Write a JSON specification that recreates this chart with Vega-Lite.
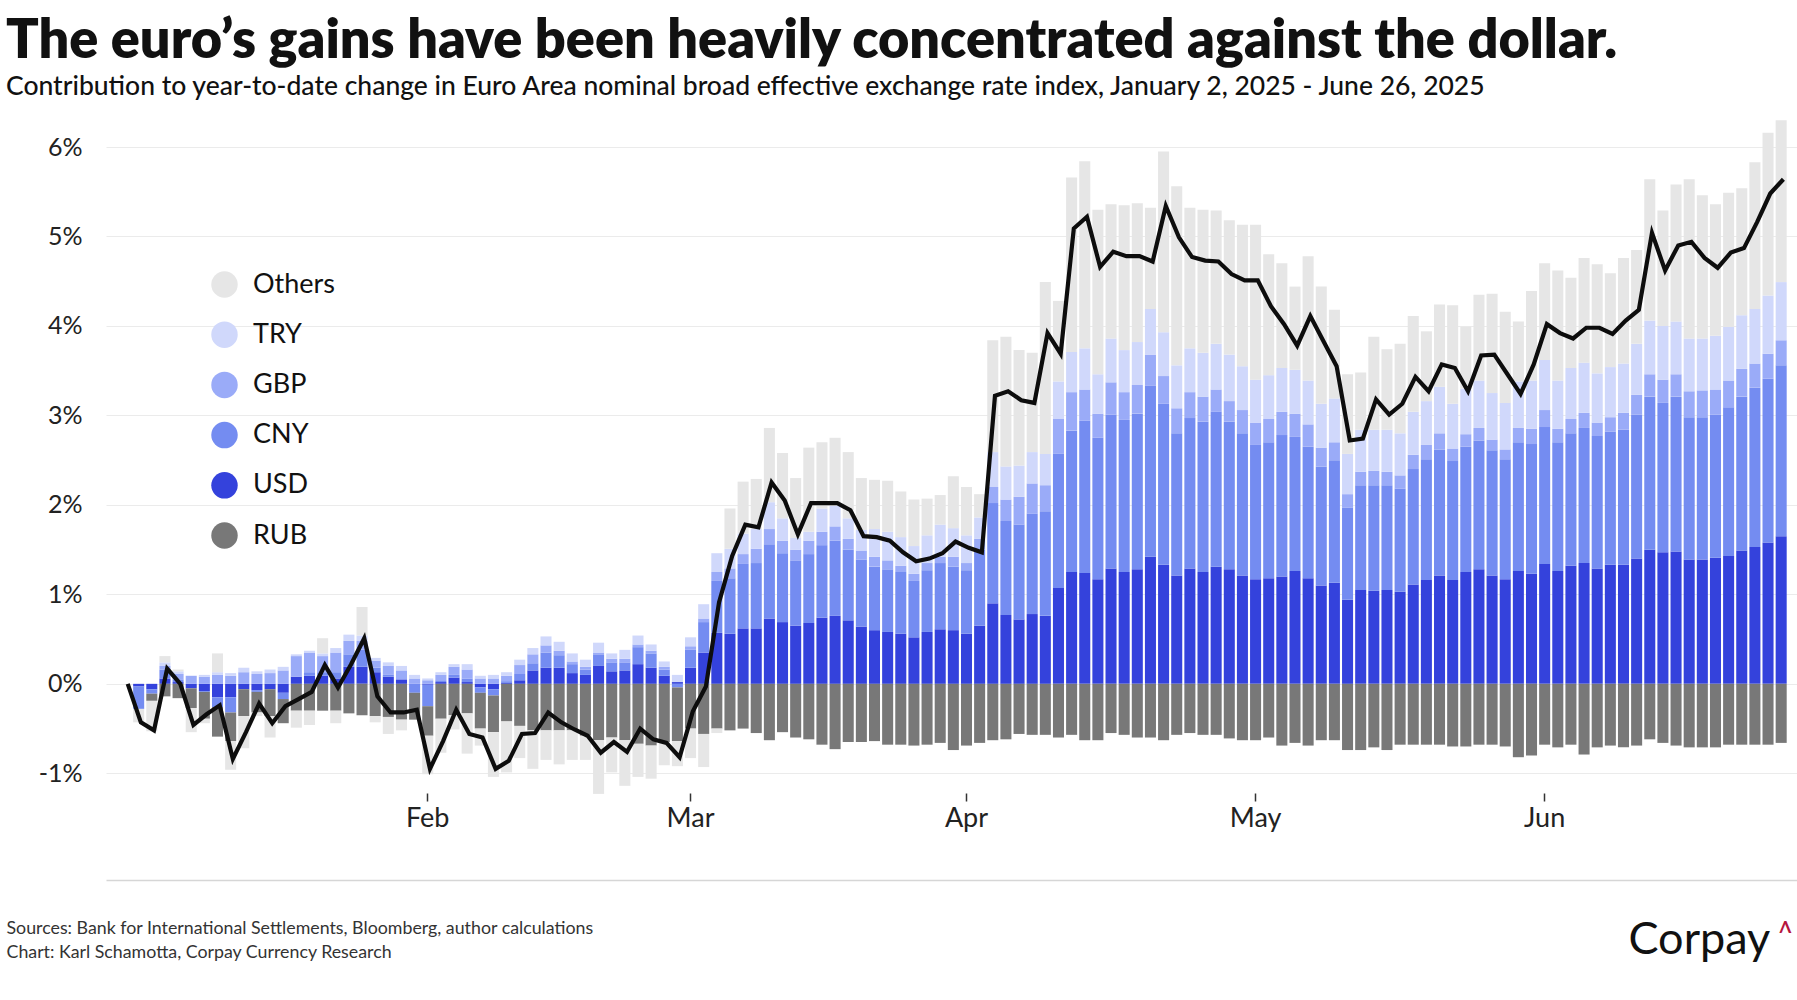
{
"$schema": "https://vega.github.io/schema/vega-lite/v6.json",
"width": 1691, "height": 680,
"autosize": {"type": "none"},
"padding": {"left": 106, "top": 113, "right": 0, "bottom": 207},
"background": "white",
"config": {"view": {"stroke": null}, "font": "Lato"},
"title": {"text": "The euro’s gains have been heavily concentrated against the dollar.", "subtitle": "Contribution to year-to-date change in Euro Area nominal broad effective exchange rate index, January 2, 2025 - June 26, 2025", "anchor": "start", "frame": "group", "dx": -100, "offset": 13, "font": "Lato", "fontSize": 54, "fontWeight": 800, "color": "#111111", "subtitleFont": "Lato", "subtitleFontSize": 26.5, "subtitleFontWeight": 500, "subtitleColor": "#111111", "subtitlePadding": 5},
"data": {"values": [
{"date":"2025-01-01","USD":0,"CNY":0,"GBP":0,"TRY":0,"Others":0,"RUB":0,"Total":0},
{"date":"2025-01-02","USD":-0.03,"CNY":-0.25,"GBP":0,"TRY":0,"Others":-0.15,"RUB":0,"Total":-0.43},
{"date":"2025-01-03","USD":-0.06,"CNY":-0.05,"GBP":0,"TRY":0,"Others":-0.34,"RUB":-0.08,"Total":-0.52},
{"date":"2025-01-06","USD":0.06,"CNY":0.1,"GBP":0.04,"TRY":0.04,"Others":0.07,"RUB":-0.14,"Total":0.17},
{"date":"2025-01-07","USD":0.02,"CNY":0.03,"GBP":0.06,"TRY":0.03,"Others":0.02,"RUB":-0.16,"Total":0.0},
{"date":"2025-01-08","USD":-0.05,"CNY":0,"GBP":0.09,"TRY":0,"Others":-0.27,"RUB":-0.22,"Total":-0.46},
{"date":"2025-01-09","USD":-0.08,"CNY":-0.01,"GBP":0.08,"TRY":0.02,"Others":-0.05,"RUB":-0.3,"Total":-0.34},
{"date":"2025-01-10","USD":-0.15,"CNY":-0.11,"GBP":0.1,"TRY":0.03,"Others":0.21,"RUB":-0.33,"Total":-0.24},
{"date":"2025-01-13","USD":-0.15,"CNY":-0.17,"GBP":0.09,"TRY":0.03,"Others":-0.32,"RUB":-0.32,"Total":-0.84},
{"date":"2025-01-14","USD":-0.06,"CNY":0,"GBP":0.13,"TRY":0.05,"Others":-0.36,"RUB":-0.3,"Total":-0.54},
{"date":"2025-01-15","USD":-0.07,"CNY":-0.02,"GBP":0.11,"TRY":0.03,"Others":-0.04,"RUB":-0.23,"Total":-0.22},
{"date":"2025-01-16","USD":-0.06,"CNY":0,"GBP":0.12,"TRY":0.04,"Others":-0.24,"RUB":-0.3,"Total":-0.44},
{"date":"2025-01-17","USD":-0.1,"CNY":-0.07,"GBP":0.15,"TRY":0.04,"Others":0,"RUB":-0.27,"Total":-0.25},
{"date":"2025-01-20","USD":0.08,"CNY":0,"GBP":0.23,"TRY":0.02,"Others":-0.19,"RUB":-0.3,"Total":-0.17},
{"date":"2025-01-21","USD":0.09,"CNY":0.04,"GBP":0.22,"TRY":0.02,"Others":-0.16,"RUB":-0.3,"Total":-0.09},
{"date":"2025-01-22","USD":0.09,"CNY":0.04,"GBP":0.18,"TRY":0.03,"Others":0.17,"RUB":-0.3,"Total":0.21},
{"date":"2025-01-23","USD":0.06,"CNY":0.07,"GBP":0.22,"TRY":0.05,"Others":-0.14,"RUB":-0.3,"Total":-0.04},
{"date":"2025-01-24","USD":0.19,"CNY":0.14,"GBP":0.15,"TRY":0.07,"Others":0,"RUB":-0.33,"Total":0.22},
{"date":"2025-01-27","USD":0.19,"CNY":0.19,"GBP":0.1,"TRY":0.06,"Others":0.32,"RUB":-0.35,"Total":0.51},
{"date":"2025-01-28","USD":0.13,"CNY":0.05,"GBP":0.08,"TRY":0.03,"Others":-0.07,"RUB":-0.36,"Total":-0.14},
{"date":"2025-01-29","USD":0.08,"CNY":0.02,"GBP":0.1,"TRY":0.04,"Others":-0.19,"RUB":-0.37,"Total":-0.32},
{"date":"2025-01-30","USD":0.05,"CNY":0,"GBP":0.1,"TRY":0.05,"Others":-0.12,"RUB":-0.4,"Total":-0.32},
{"date":"2025-01-31","USD":0,"CNY":-0.1,"GBP":0.06,"TRY":0.04,"Others":0,"RUB":-0.3,"Total":-0.29},
{"date":"2025-02-03","USD":-0.01,"CNY":-0.24,"GBP":0.04,"TRY":0.02,"Others":-0.43,"RUB":-0.33,"Total":-0.95},
{"date":"2025-02-04","USD":0.02,"CNY":0.02,"GBP":0.06,"TRY":0.03,"Others":-0.38,"RUB":-0.39,"Total":-0.64},
{"date":"2025-02-05","USD":0.07,"CNY":0.03,"GBP":0.09,"TRY":0.03,"Others":-0.16,"RUB":-0.35,"Total":-0.29},
{"date":"2025-02-06","USD":0.02,"CNY":0.04,"GBP":0.1,"TRY":0.06,"Others":-0.45,"RUB":-0.33,"Total":-0.56},
{"date":"2025-02-07","USD":-0.04,"CNY":-0.06,"GBP":0.06,"TRY":0.03,"Others":-0.19,"RUB":-0.4,"Total":-0.6},
{"date":"2025-02-10","USD":-0.06,"CNY":-0.07,"GBP":0.06,"TRY":0.04,"Others":-0.5,"RUB":-0.41,"Total":-0.95},
{"date":"2025-02-11","USD":0.01,"CNY":0.02,"GBP":0.06,"TRY":0.04,"Others":-0.57,"RUB":-0.42,"Total":-0.86},
{"date":"2025-02-12","USD":0.04,"CNY":0.07,"GBP":0.1,"TRY":0.06,"Others":-0.36,"RUB":-0.47,"Total":-0.56},
{"date":"2025-02-13","USD":0.15,"CNY":0.08,"GBP":0.1,"TRY":0.07,"Others":-0.43,"RUB":-0.52,"Total":-0.55},
{"date":"2025-02-14","USD":0.18,"CNY":0.17,"GBP":0.08,"TRY":0.1,"Others":-0.33,"RUB":-0.52,"Total":-0.32},
{"date":"2025-02-17","USD":0.18,"CNY":0.14,"GBP":0.05,"TRY":0.1,"Others":-0.38,"RUB":-0.52,"Total":-0.43},
{"date":"2025-02-18","USD":0.12,"CNY":0.1,"GBP":0.03,"TRY":0.09,"Others":-0.33,"RUB":-0.52,"Total":-0.51},
{"date":"2025-02-19","USD":0.1,"CNY":0.06,"GBP":0.03,"TRY":0.08,"Others":-0.27,"RUB":-0.58,"Total":-0.58},
{"date":"2025-02-20","USD":0.2,"CNY":0.13,"GBP":0.02,"TRY":0.11,"Others":-0.6,"RUB":-0.63,"Total":-0.77},
{"date":"2025-02-21","USD":0.14,"CNY":0.1,"GBP":0.04,"TRY":0.06,"Others":-0.39,"RUB":-0.6,"Total":-0.65},
{"date":"2025-02-24","USD":0.15,"CNY":0.09,"GBP":0.04,"TRY":0.1,"Others":-0.51,"RUB":-0.63,"Total":-0.76},
{"date":"2025-02-25","USD":0.22,"CNY":0.19,"GBP":0.03,"TRY":0.1,"Others":-0.37,"RUB":-0.67,"Total":-0.5},
{"date":"2025-02-26","USD":0.18,"CNY":0.16,"GBP":0.03,"TRY":0.07,"Others":-0.37,"RUB":-0.69,"Total":-0.62},
{"date":"2025-02-27","USD":0.09,"CNY":0.07,"GBP":0.03,"TRY":0.06,"Others":-0.26,"RUB":-0.65,"Total":-0.66},
{"date":"2025-02-28","USD":0.02,"CNY":-0.04,"GBP":0,"TRY":0.08,"Others":-0.28,"RUB":-0.6,"Total":-0.82},
{"date":"2025-03-03","USD":0.18,"CNY":0.2,"GBP":0.04,"TRY":0.1,"Others":-0.33,"RUB":-0.5,"Total":-0.31},
{"date":"2025-03-04","USD":0.35,"CNY":0.34,"GBP":0.04,"TRY":0.16,"Others":-0.37,"RUB":-0.56,"Total":-0.03},
{"date":"2025-03-05","USD":0.57,"CNY":0.58,"GBP":0.1,"TRY":0.21,"Others":-0.05,"RUB":-0.5,"Total":0.91},
{"date":"2025-03-06","USD":0.56,"CNY":0.62,"GBP":0.11,"TRY":0.22,"Others":0.45,"RUB":-0.52,"Total":1.43},
{"date":"2025-03-07","USD":0.62,"CNY":0.72,"GBP":0.11,"TRY":0.23,"Others":0.58,"RUB":-0.5,"Total":1.78},
{"date":"2025-03-10","USD":0.62,"CNY":0.73,"GBP":0.16,"TRY":0.22,"Others":0.56,"RUB":-0.55,"Total":1.75},
{"date":"2025-03-11","USD":0.73,"CNY":0.83,"GBP":0.17,"TRY":0.3,"Others":0.83,"RUB":-0.63,"Total":2.25},
{"date":"2025-03-12","USD":0.69,"CNY":0.77,"GBP":0.14,"TRY":0.25,"Others":0.73,"RUB":-0.54,"Total":2.05},
{"date":"2025-03-13","USD":0.65,"CNY":0.73,"GBP":0.12,"TRY":0.13,"Others":0.67,"RUB":-0.6,"Total":1.67},
{"date":"2025-03-14","USD":0.68,"CNY":0.77,"GBP":0.15,"TRY":0.1,"Others":0.94,"RUB":-0.62,"Total":2.02},
{"date":"2025-03-17","USD":0.74,"CNY":0.81,"GBP":0.15,"TRY":0.26,"Others":0.74,"RUB":-0.68,"Total":2.02},
{"date":"2025-03-18","USD":0.76,"CNY":0.84,"GBP":0.16,"TRY":0.23,"Others":0.76,"RUB":-0.73,"Total":2.02},
{"date":"2025-03-19","USD":0.71,"CNY":0.79,"GBP":0.12,"TRY":0.23,"Others":0.74,"RUB":-0.65,"Total":1.94},
{"date":"2025-03-20","USD":0.64,"CNY":0.75,"GBP":0.1,"TRY":0.23,"Others":0.58,"RUB":-0.65,"Total":1.65},
{"date":"2025-03-21","USD":0.6,"CNY":0.71,"GBP":0.11,"TRY":0.31,"Others":0.55,"RUB":-0.64,"Total":1.64},
{"date":"2025-03-24","USD":0.58,"CNY":0.7,"GBP":0.1,"TRY":0.32,"Others":0.57,"RUB":-0.68,"Total":1.6},
{"date":"2025-03-25","USD":0.56,"CNY":0.69,"GBP":0.07,"TRY":0.32,"Others":0.51,"RUB":-0.68,"Total":1.47},
{"date":"2025-03-26","USD":0.52,"CNY":0.63,"GBP":0.08,"TRY":0.31,"Others":0.52,"RUB":-0.69,"Total":1.37},
{"date":"2025-03-27","USD":0.58,"CNY":0.69,"GBP":0.08,"TRY":0.31,"Others":0.41,"RUB":-0.68,"Total":1.4},
{"date":"2025-03-28","USD":0.61,"CNY":0.74,"GBP":0.07,"TRY":0.36,"Others":0.33,"RUB":-0.66,"Total":1.46},
{"date":"2025-03-31","USD":0.6,"CNY":0.71,"GBP":0.11,"TRY":0.32,"Others":0.58,"RUB":-0.74,"Total":1.59},
{"date":"2025-04-01","USD":0.56,"CNY":0.71,"GBP":0.08,"TRY":0.31,"Others":0.54,"RUB":-0.69,"Total":1.52},
{"date":"2025-04-02","USD":0.65,"CNY":0.85,"GBP":0.12,"TRY":0.24,"Others":0.26,"RUB":-0.66,"Total":1.47},
{"date":"2025-04-03","USD":0.9,"CNY":1.12,"GBP":0.18,"TRY":0.39,"Others":1.25,"RUB":-0.63,"Total":3.22},
{"date":"2025-04-04","USD":0.77,"CNY":1.05,"GBP":0.24,"TRY":0.37,"Others":1.45,"RUB":-0.62,"Total":3.27},
{"date":"2025-04-07","USD":0.72,"CNY":1.06,"GBP":0.31,"TRY":0.35,"Others":1.29,"RUB":-0.56,"Total":3.17},
{"date":"2025-04-08","USD":0.78,"CNY":1.12,"GBP":0.34,"TRY":0.35,"Others":1.11,"RUB":-0.57,"Total":3.14},
{"date":"2025-04-09","USD":0.76,"CNY":1.17,"GBP":0.29,"TRY":0.35,"Others":1.92,"RUB":-0.57,"Total":3.92},
{"date":"2025-04-10","USD":1.07,"CNY":1.5,"GBP":0.39,"TRY":0.42,"Others":0.9,"RUB":-0.6,"Total":3.69},
{"date":"2025-04-11","USD":1.25,"CNY":1.58,"GBP":0.43,"TRY":0.45,"Others":1.95,"RUB":-0.57,"Total":5.09},
{"date":"2025-04-14","USD":1.24,"CNY":1.7,"GBP":0.35,"TRY":0.46,"Others":2.09,"RUB":-0.63,"Total":5.22},
{"date":"2025-04-15","USD":1.17,"CNY":1.58,"GBP":0.27,"TRY":0.44,"Others":1.84,"RUB":-0.63,"Total":4.66},
{"date":"2025-04-16","USD":1.29,"CNY":1.72,"GBP":0.36,"TRY":0.49,"Others":1.5,"RUB":-0.55,"Total":4.83},
{"date":"2025-04-17","USD":1.25,"CNY":1.7,"GBP":0.31,"TRY":0.47,"Others":1.62,"RUB":-0.57,"Total":4.78},
{"date":"2025-04-18","USD":1.28,"CNY":1.74,"GBP":0.32,"TRY":0.48,"Others":1.55,"RUB":-0.6,"Total":4.78},
{"date":"2025-04-21","USD":1.42,"CNY":1.91,"GBP":0.35,"TRY":0.51,"Others":1.13,"RUB":-0.6,"Total":4.72},
{"date":"2025-04-22","USD":1.33,"CNY":1.8,"GBP":0.31,"TRY":0.49,"Others":2.02,"RUB":-0.63,"Total":5.34},
{"date":"2025-04-23","USD":1.21,"CNY":1.59,"GBP":0.28,"TRY":0.48,"Others":2.0,"RUB":-0.57,"Total":4.99},
{"date":"2025-04-24","USD":1.29,"CNY":1.68,"GBP":0.29,"TRY":0.49,"Others":1.57,"RUB":-0.55,"Total":4.77},
{"date":"2025-04-25","USD":1.25,"CNY":1.68,"GBP":0.28,"TRY":0.49,"Others":1.6,"RUB":-0.57,"Total":4.73},
{"date":"2025-04-28","USD":1.31,"CNY":1.73,"GBP":0.25,"TRY":0.51,"Others":1.49,"RUB":-0.57,"Total":4.72},
{"date":"2025-04-29","USD":1.28,"CNY":1.65,"GBP":0.23,"TRY":0.52,"Others":1.5,"RUB":-0.61,"Total":4.58},
{"date":"2025-04-30","USD":1.21,"CNY":1.59,"GBP":0.26,"TRY":0.49,"Others":1.58,"RUB":-0.63,"Total":4.51},
{"date":"2025-05-01","USD":1.17,"CNY":1.5,"GBP":0.25,"TRY":0.48,"Others":1.73,"RUB":-0.63,"Total":4.51},
{"date":"2025-05-02","USD":1.18,"CNY":1.52,"GBP":0.26,"TRY":0.49,"Others":1.35,"RUB":-0.6,"Total":4.22},
{"date":"2025-05-05","USD":1.2,"CNY":1.58,"GBP":0.26,"TRY":0.49,"Others":1.17,"RUB":-0.69,"Total":4.02},
{"date":"2025-05-06","USD":1.26,"CNY":1.5,"GBP":0.26,"TRY":0.49,"Others":0.93,"RUB":-0.66,"Total":3.78},
{"date":"2025-05-07","USD":1.18,"CNY":1.47,"GBP":0.25,"TRY":0.49,"Others":1.39,"RUB":-0.69,"Total":4.11},
{"date":"2025-05-08","USD":1.1,"CNY":1.33,"GBP":0.21,"TRY":0.49,"Others":1.31,"RUB":-0.63,"Total":3.83},
{"date":"2025-05-09","USD":1.13,"CNY":1.37,"GBP":0.2,"TRY":0.49,"Others":0.99,"RUB":-0.63,"Total":3.55},
{"date":"2025-05-12","USD":0.94,"CNY":1.03,"GBP":0.15,"TRY":0.45,"Others":0.89,"RUB":-0.74,"Total":2.72},
{"date":"2025-05-13","USD":1.05,"CNY":1.17,"GBP":0.15,"TRY":0.47,"Others":0.64,"RUB":-0.74,"Total":2.74},
{"date":"2025-05-14","USD":1.04,"CNY":1.18,"GBP":0.16,"TRY":0.46,"Others":1.04,"RUB":-0.71,"Total":3.18},
{"date":"2025-05-15","USD":1.05,"CNY":1.17,"GBP":0.15,"TRY":0.47,"Others":0.9,"RUB":-0.74,"Total":3.01},
{"date":"2025-05-16","USD":1.03,"CNY":1.15,"GBP":0.15,"TRY":0.47,"Others":1.0,"RUB":-0.68,"Total":3.13},
{"date":"2025-05-19","USD":1.11,"CNY":1.29,"GBP":0.16,"TRY":0.48,"Others":1.07,"RUB":-0.68,"Total":3.43},
{"date":"2025-05-20","USD":1.16,"CNY":1.35,"GBP":0.16,"TRY":0.49,"Others":0.78,"RUB":-0.68,"Total":3.27},
{"date":"2025-05-21","USD":1.21,"CNY":1.41,"GBP":0.18,"TRY":0.52,"Others":0.92,"RUB":-0.68,"Total":3.57},
{"date":"2025-05-22","USD":1.16,"CNY":1.33,"GBP":0.14,"TRY":0.5,"Others":1.1,"RUB":-0.7,"Total":3.53},
{"date":"2025-05-23","USD":1.25,"CNY":1.4,"GBP":0.14,"TRY":0.51,"Others":0.69,"RUB":-0.7,"Total":3.27},
{"date":"2025-05-26","USD":1.28,"CNY":1.44,"GBP":0.14,"TRY":0.53,"Others":0.96,"RUB":-0.68,"Total":3.67},
{"date":"2025-05-27","USD":1.21,"CNY":1.4,"GBP":0.12,"TRY":0.52,"Others":1.11,"RUB":-0.68,"Total":3.68},
{"date":"2025-05-28","USD":1.17,"CNY":1.34,"GBP":0.11,"TRY":0.52,"Others":1.02,"RUB":-0.7,"Total":3.46},
{"date":"2025-05-29","USD":1.26,"CNY":1.44,"GBP":0.16,"TRY":0.52,"Others":0.67,"RUB":-0.82,"Total":3.24},
{"date":"2025-05-30","USD":1.23,"CNY":1.45,"GBP":0.17,"TRY":0.54,"Others":1.0,"RUB":-0.8,"Total":3.57},
{"date":"2025-06-02","USD":1.34,"CNY":1.53,"GBP":0.19,"TRY":0.56,"Others":1.08,"RUB":-0.68,"Total":4.02},
{"date":"2025-06-03","USD":1.26,"CNY":1.44,"GBP":0.15,"TRY":0.54,"Others":1.23,"RUB":-0.71,"Total":3.92},
{"date":"2025-06-04","USD":1.32,"CNY":1.48,"GBP":0.16,"TRY":0.57,"Others":1.01,"RUB":-0.68,"Total":3.86},
{"date":"2025-06-05","USD":1.35,"CNY":1.51,"GBP":0.17,"TRY":0.56,"Others":1.17,"RUB":-0.79,"Total":3.98},
{"date":"2025-06-06","USD":1.29,"CNY":1.48,"GBP":0.15,"TRY":0.55,"Others":1.22,"RUB":-0.71,"Total":3.98},
{"date":"2025-06-09","USD":1.33,"CNY":1.49,"GBP":0.16,"TRY":0.56,"Others":1.05,"RUB":-0.69,"Total":3.91},
{"date":"2025-06-10","USD":1.33,"CNY":1.51,"GBP":0.19,"TRY":0.55,"Others":1.18,"RUB":-0.71,"Total":4.06},
{"date":"2025-06-11","USD":1.4,"CNY":1.61,"GBP":0.22,"TRY":0.57,"Others":1.05,"RUB":-0.69,"Total":4.18},
{"date":"2025-06-12","USD":1.5,"CNY":1.71,"GBP":0.25,"TRY":0.6,"Others":1.58,"RUB":-0.62,"Total":5.04},
{"date":"2025-06-13","USD":1.47,"CNY":1.67,"GBP":0.26,"TRY":0.6,"Others":1.29,"RUB":-0.66,"Total":4.62},
{"date":"2025-06-16","USD":1.48,"CNY":1.73,"GBP":0.25,"TRY":0.59,"Others":1.53,"RUB":-0.69,"Total":4.9},
{"date":"2025-06-17","USD":1.39,"CNY":1.59,"GBP":0.29,"TRY":0.59,"Others":1.78,"RUB":-0.71,"Total":4.94},
{"date":"2025-06-18","USD":1.39,"CNY":1.59,"GBP":0.3,"TRY":0.58,"Others":1.6,"RUB":-0.71,"Total":4.76},
{"date":"2025-06-19","USD":1.41,"CNY":1.6,"GBP":0.28,"TRY":0.6,"Others":1.47,"RUB":-0.71,"Total":4.65},
{"date":"2025-06-20","USD":1.43,"CNY":1.66,"GBP":0.3,"TRY":0.6,"Others":1.5,"RUB":-0.68,"Total":4.82},
{"date":"2025-06-23","USD":1.49,"CNY":1.72,"GBP":0.31,"TRY":0.6,"Others":1.42,"RUB":-0.68,"Total":4.87},
{"date":"2025-06-24","USD":1.53,"CNY":1.78,"GBP":0.27,"TRY":0.61,"Others":1.64,"RUB":-0.68,"Total":5.16},
{"date":"2025-06-25","USD":1.58,"CNY":1.83,"GBP":0.28,"TRY":0.65,"Others":1.82,"RUB":-0.68,"Total":5.48},
{"date":"2025-06-26","USD":1.65,"CNY":1.91,"GBP":0.28,"TRY":0.65,"Others":1.81,"RUB":-0.66,"Total":5.64}
]},
"layer": [
{
"transform": [
{"fold": ["USD","CNY","GBP","TRY","RUB","Others"], "as": ["currency","value"]},
{"calculate": "indexof(['USD','CNY','GBP','TRY','RUB','Others'], datum.currency)", "as": "rank"}
],
"mark": {"type": "bar"},
"encoding": {
"x": {"field": "date", "type": "ordinal", "scale": {"paddingInner": 0.16, "paddingOuter": 0.925, "align": 0.576},
"axis": {"values": ["2025-02-03","2025-03-03","2025-04-01","2025-05-01","2025-06-02"], "labelExpr": "utcFormat(toDate(datum.value), '%b')", "labelAngle": 0, "domain": false, "ticks": true, "tickSize": 8, "tickColor": "#333333", "tickWidth": 1.5, "labelPadding": 4, "labelFontSize": 27, "labelFont": "Lato", "labelColor": "#222222", "grid": false,
"title": ["Sources: Bank for International Settlements, Bloomberg, author calculations", "Chart: Karl Schamotta, Corpay Currency Research"], "titleX": -100, "titleY": 140, "titleAlign": "left", "titleAnchor": "start", "titleBaseline": "alphabetic", "titleFont": "Lato", "titleFontSize": 17.8, "titleFontWeight": 400, "titleColor": "#333333", "titleLineHeight": 24}},
"y": {"field": "value", "type": "quantitative", "stack": "zero", "scale": {"domain": [-1.22, 6.38], "nice": false, "zero": false},
"axis": {"values": [-1,0,1,2,3,4,5,6], "labelExpr": "datum.value + '%'", "grid": true, "gridColor": "#ebebeb", "gridWidth": 1, "ticks": false, "domain": false, "labelPadding": 24, "labelFontSize": 25, "labelFont": "Lato", "labelColor": "#222222",
"title": "Corpay", "titleAngle": 0, "titleX": 1522, "titleY": 840, "titleAlign": "left", "titleBaseline": "alphabetic", "titleFont": "Lato", "titleFontSize": 45, "titleFontWeight": 400, "titleColor": "#111111"}},
"color": {"field": "currency", "type": "nominal",
"scale": {"domain": ["Others","TRY","GBP","CNY","USD","RUB"], "range": ["#e6e6e6","#d0d8fb","#9aabf8","#748cf1","#3442dc","#787878"]},
"legend": {"orient": "none", "legendX": 105, "legendY": 158, "title": null, "symbolType": "circle", "symbolSize": 700, "symbolStrokeWidth": 0, "symbolOpacity": 1, "labelFontSize": 27, "labelFont": "Lato", "labelColor": "#111111", "labelOffset": 15, "rowPadding": 22.2}},
"order": {"field": "rank", "type": "quantitative"}
}
},
{
"mark": {"type": "line", "color": "#0d0d0d", "strokeWidth": 4.2, "strokeJoin": "miter"},
"encoding": {
"x": {"field": "date", "type": "ordinal", "bandPosition": 0.7,
"axis": {"orient": "bottom", "offset": 87, "domain": true, "domainColor": "#d6d6d6", "domainWidth": 1.5, "labels": false, "ticks": false, "grid": false, "title": null}},
"y": {"field": "Total", "type": "quantitative", "scale": {"domain": [-1.22, 6.38], "nice": false, "zero": false},
"axis": {"orient": "right", "labels": false, "ticks": false, "domain": false, "grid": false, "title": "Λ", "titleAngle": 0, "titleX": -12, "titleY": 819, "titleAlign": "center", "titleBaseline": "alphabetic", "titleFont": "Lato", "titleFontSize": 17, "titleFontWeight": 700, "titleColor": "#b5163e"}}
}
}
],
"resolve": {"axis": {"x": "independent", "y": "independent"}}
}
